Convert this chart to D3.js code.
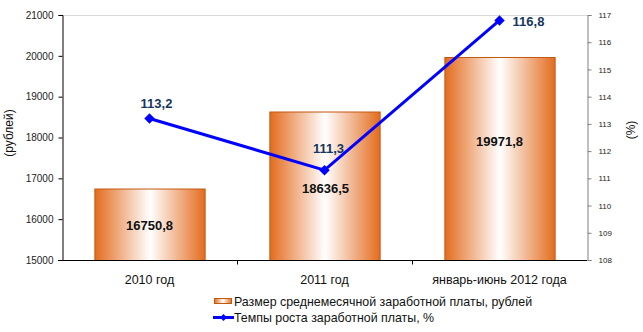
<!DOCTYPE html>
<html>
<head>
<meta charset="utf-8">
<script src="https://cdn.jsdelivr.net/npm/d3@7/dist/d3.min.js"></script>
<style>
  html, body { margin: 0; padding: 0; background: #fff; }
  svg { display: block; font-family: "Liberation Sans", Arial, sans-serif; }
</style>
</head>
<body>
<svg id="chart" width="643" height="332"></svg>
<script>
// Data
const categories = ["2010 год", "2011 год", "январь-июнь 2012 года"];
const salary = [16750.8, 18636.5, 19971.8];
const growth = [113.2, 111.3, 116.8];
const salaryLabels = ["16750,8", "18636,5", "19971,8"];
const growthLabels = ["113,2", "111,3", "116,8"];
const leftTicks = [15000, 16000, 17000, 18000, 19000, 20000, 21000];
const rightTicks = [108, 109, 110, 111, 112, 113, 114, 115, 116, 117];
const legendNames = ["Размер среднемесячной заработной платы, рублей", "Темпы роста заработной платы, %"];

const svg = d3.select("#chart");
const plot = { left: 62, right: 587, top: 15, bottom: 260 };

const x = d3.scaleBand().domain(categories).range([plot.left, plot.right]).paddingInner(0).paddingOuter(0);
const yL = d3.scaleLinear().domain([15000, 21000]).range([plot.bottom, plot.top]);
const yR = d3.scaleLinear().domain([108, 117]).range([plot.bottom, plot.top]);

// Bar gradient: orange edges, white centre
const defs = svg.append("defs");
const grad = defs.append("linearGradient").attr("id", "barGrad").attr("x1", "0").attr("x2", "1").attr("y1", "0").attr("y2", "0");
grad.append("stop").attr("offset", "0%").attr("stop-color", "#E36C1E");
grad.append("stop").attr("offset", "50%").attr("stop-color", "#FFFFFF");
grad.append("stop").attr("offset", "100%").attr("stop-color", "#E36C1E");

// Top border of plot area
svg.append("line")
  .attr("x1", plot.left).attr("x2", plot.right)
  .attr("y1", plot.top + 0.5).attr("y2", plot.top + 0.5)
  .attr("stroke", "#D9D9D9").attr("stroke-width", 1);

// Bars
const barW = x.bandwidth() * 0.63;
svg.append("g").selectAll("rect").data(salary).join("rect")
  .attr("x", (d, i) => x(categories[i]) + (x.bandwidth() - barW) / 2 + 0.5)
  .attr("y", d => yL(d) + 0.5)
  .attr("width", barW)
  .attr("height", d => yL(15000) - yL(d))
  .attr("fill", "url(#barGrad)")
  .attr("stroke", "#C0590F")
  .attr("stroke-width", 1);

// Left axis
const axL = svg.append("g").attr("transform", `translate(${plot.left + 0.5},0)`)
  .call(d3.axisLeft(yL).tickValues(leftTicks).tickSize(4).tickPadding(5).tickFormat(d3.format("d")));
axL.select(".domain").attr("stroke", "#000");
axL.selectAll(".tick line").attr("stroke", "#000");
axL.selectAll("text").attr("font-size", 10).attr("fill", "#222");

// Right axis
const axR = svg.append("g").attr("transform", `translate(${plot.right + 0.5},0)`)
  .call(d3.axisRight(yR).tickValues(rightTicks).tickSize(4).tickPadding(7).tickFormat(d3.format("d")));
axR.select(".domain").attr("stroke", "#808080");
axR.selectAll(".tick line").attr("stroke", "#808080");
axR.selectAll("text").attr("font-size", 8).attr("fill", "#222");

// Category axis
const axB = svg.append("g").attr("transform", `translate(0,${plot.bottom + 0.5})`);
axB.append("line").attr("x1", plot.left - 4).attr("x2", plot.right).attr("stroke", "#000");
const bounds = categories.slice(1).map(c => x(c));
axB.selectAll("line.tk").data(bounds).join("line").attr("class", "tk")
  .attr("x1", d => d + 0.5).attr("x2", d => d + 0.5).attr("y1", 0).attr("y2", 4).attr("stroke", "#000");
axB.selectAll("text").data(categories).join("text")
  .attr("x", d => x(d) + x.bandwidth() / 2)
  .attr("y", 23)
  .attr("text-anchor", "middle")
  .attr("font-size", 12.5)
  .attr("fill", "#111")
  .text(d => d);

// Axis titles
svg.append("text").attr("transform", "translate(13,133) rotate(-90)")
  .attr("text-anchor", "middle").attr("font-size", 12).attr("fill", "#111").text("(рублей)");
svg.append("text").attr("transform", "translate(635,130) rotate(-90)")
  .attr("text-anchor", "middle").attr("font-size", 12).attr("fill", "#111").text("(%)");

// Growth line
const cx = i => x(categories[i]) + x.bandwidth() / 2;
const line = d3.line().x((d, i) => cx(i)).y(d => yR(d));
svg.append("path").datum(growth)
  .attr("d", line).attr("fill", "none").attr("stroke", "#0000FF").attr("stroke-width", 3);
const diamond = d3.symbol().type(d3.symbolDiamond2).size(70);
svg.append("g").selectAll("path").data(growth).join("path")
  .attr("d", diamond)
  .attr("transform", (d, i) => `translate(${cx(i)},${yR(d)})`)
  .attr("fill", "#0000FF");

// Bar value labels
svg.append("g").selectAll("text").data(salary).join("text")
  .attr("x", (d, i) => cx(i) + [0, 1, 0][i])
  .attr("y", (d, i) => [230, 193, 146][i])
  .attr("text-anchor", "middle")
  .attr("font-size", 13).attr("font-weight", "bold").attr("fill", "#111")
  .text((d, i) => salaryLabels[i]);

// Growth value labels
svg.append("g").selectAll("text").data(growth).join("text")
  .attr("x", (d, i) => cx(i) + [7, 4, 29][i])
  .attr("y", (d, i) => yR(d) + [-10, -17, 6][i])
  .attr("text-anchor", "middle")
  .attr("font-size", 13).attr("font-weight", "bold").attr("fill", "#17365D")
  .text((d, i) => growthLabels[i]);

// Legend
const lg = svg.append("g");
lg.append("rect").attr("x", 214.5).attr("y", 298.5).attr("width", 17).attr("height", 5)
  .attr("fill", "url(#barGrad)").attr("stroke", "#C0590F");
lg.append("text").attr("x", 234).attr("y", 306).attr("font-size", 12.4).attr("fill", "#111").text(legendNames[0]);
lg.append("line").attr("x1", 213).attr("x2", 234).attr("y1", 317.5).attr("y2", 317.5)
  .attr("stroke", "#0000FF").attr("stroke-width", 3);
lg.append("path").attr("d", d3.symbol().type(d3.symbolDiamond2).size(30)())
  .attr("transform", "translate(223.5,317.5)").attr("fill", "#0000FF");
lg.append("text").attr("x", 234).attr("y", 322).attr("font-size", 12.4).attr("fill", "#111").text(legendNames[1]);
</script>
</body>
</html>
